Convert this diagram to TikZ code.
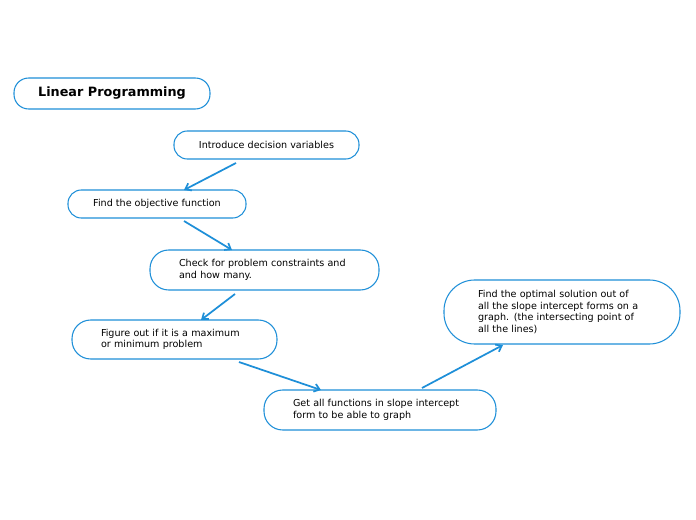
\documentclass[tikz,border=0pt]{standalone}
\usepackage{fontspec}
\setmainfont{DejaVu Sans}
\usetikzlibrary{arrows.meta}
\definecolor{bl}{HTML}{1E8FD8}
\begin{document}
\begin{tikzpicture}[x=0.75pt,y=-0.75pt,
  box/.style={draw=bl,line width=0.8pt,fill=white,align=left,font=\fontsize{7.2}{8.6}\selectfont,inner sep=0pt},
  arr/.style={draw=bl,line width=1.3pt,-{Straight Barb[length=4pt,width=6pt]}}]
\useasboundingbox (0,0) rectangle (696,520);
\node[box,minimum width=196*0.75pt,minimum height=31*0.75pt,rounded corners=11pt,font=\fontsize{9.6}{11}\selectfont\bfseries,align=center] (t) at (112,93.5) {Linear Programming};
\node[box,minimum width=185*0.75pt,minimum height=28*0.75pt,rounded corners=10pt,align=center] (a) at (266.5,145) {Introduce decision variables};
\node[box,minimum width=178*0.75pt,minimum height=28*0.75pt,rounded corners=10pt,align=center] (b) at (157,204) {Find the objective function};
\node[box,minimum width=229*0.75pt,minimum height=40*0.75pt,rounded corners=14pt,text width=171*0.75pt] (c) at (264.5,270) {Check for problem constraints and\\and how many.};
\node[box,minimum width=205*0.75pt,minimum height=39*0.75pt,rounded corners=14pt,text width=147*0.75pt] (d) at (174.5,339.5) {Figure out if it is a maximum\\or minimum problem};
\node[box,minimum width=232*0.75pt,minimum height=40*0.75pt,rounded corners=14pt,text width=174*0.75pt] (e) at (380,410) {Get all functions in slope intercept\\form to be able to graph};
\node[box,minimum width=236*0.75pt,minimum height=64*0.75pt,rounded corners=23pt,text width=168*0.75pt] (f) at (562,312) {Find the optimal solution out of\\all the slope intercept forms on a\\graph. (the intersecting point of\\all the lines)};
\coordinate (a1) at (236,163); \coordinate (b0) at (184,190);
\coordinate (b1) at (184,221); \coordinate (c0) at (232,250);
\coordinate (c1) at (235,294); \coordinate (d0) at (201,320);
\coordinate (d1) at (239,362); \coordinate (e0) at (321,390);
\coordinate (e1) at (422,388); \coordinate (f0) at (503,345);
\draw[arr] (a1) -- (b0);
\draw[arr] (b1) -- (c0);
\draw[arr] (c1) -- (d0);
\draw[arr] (d1) -- (e0);
\draw[arr] (e1) -- (f0);
\end{tikzpicture}
\end{document}
